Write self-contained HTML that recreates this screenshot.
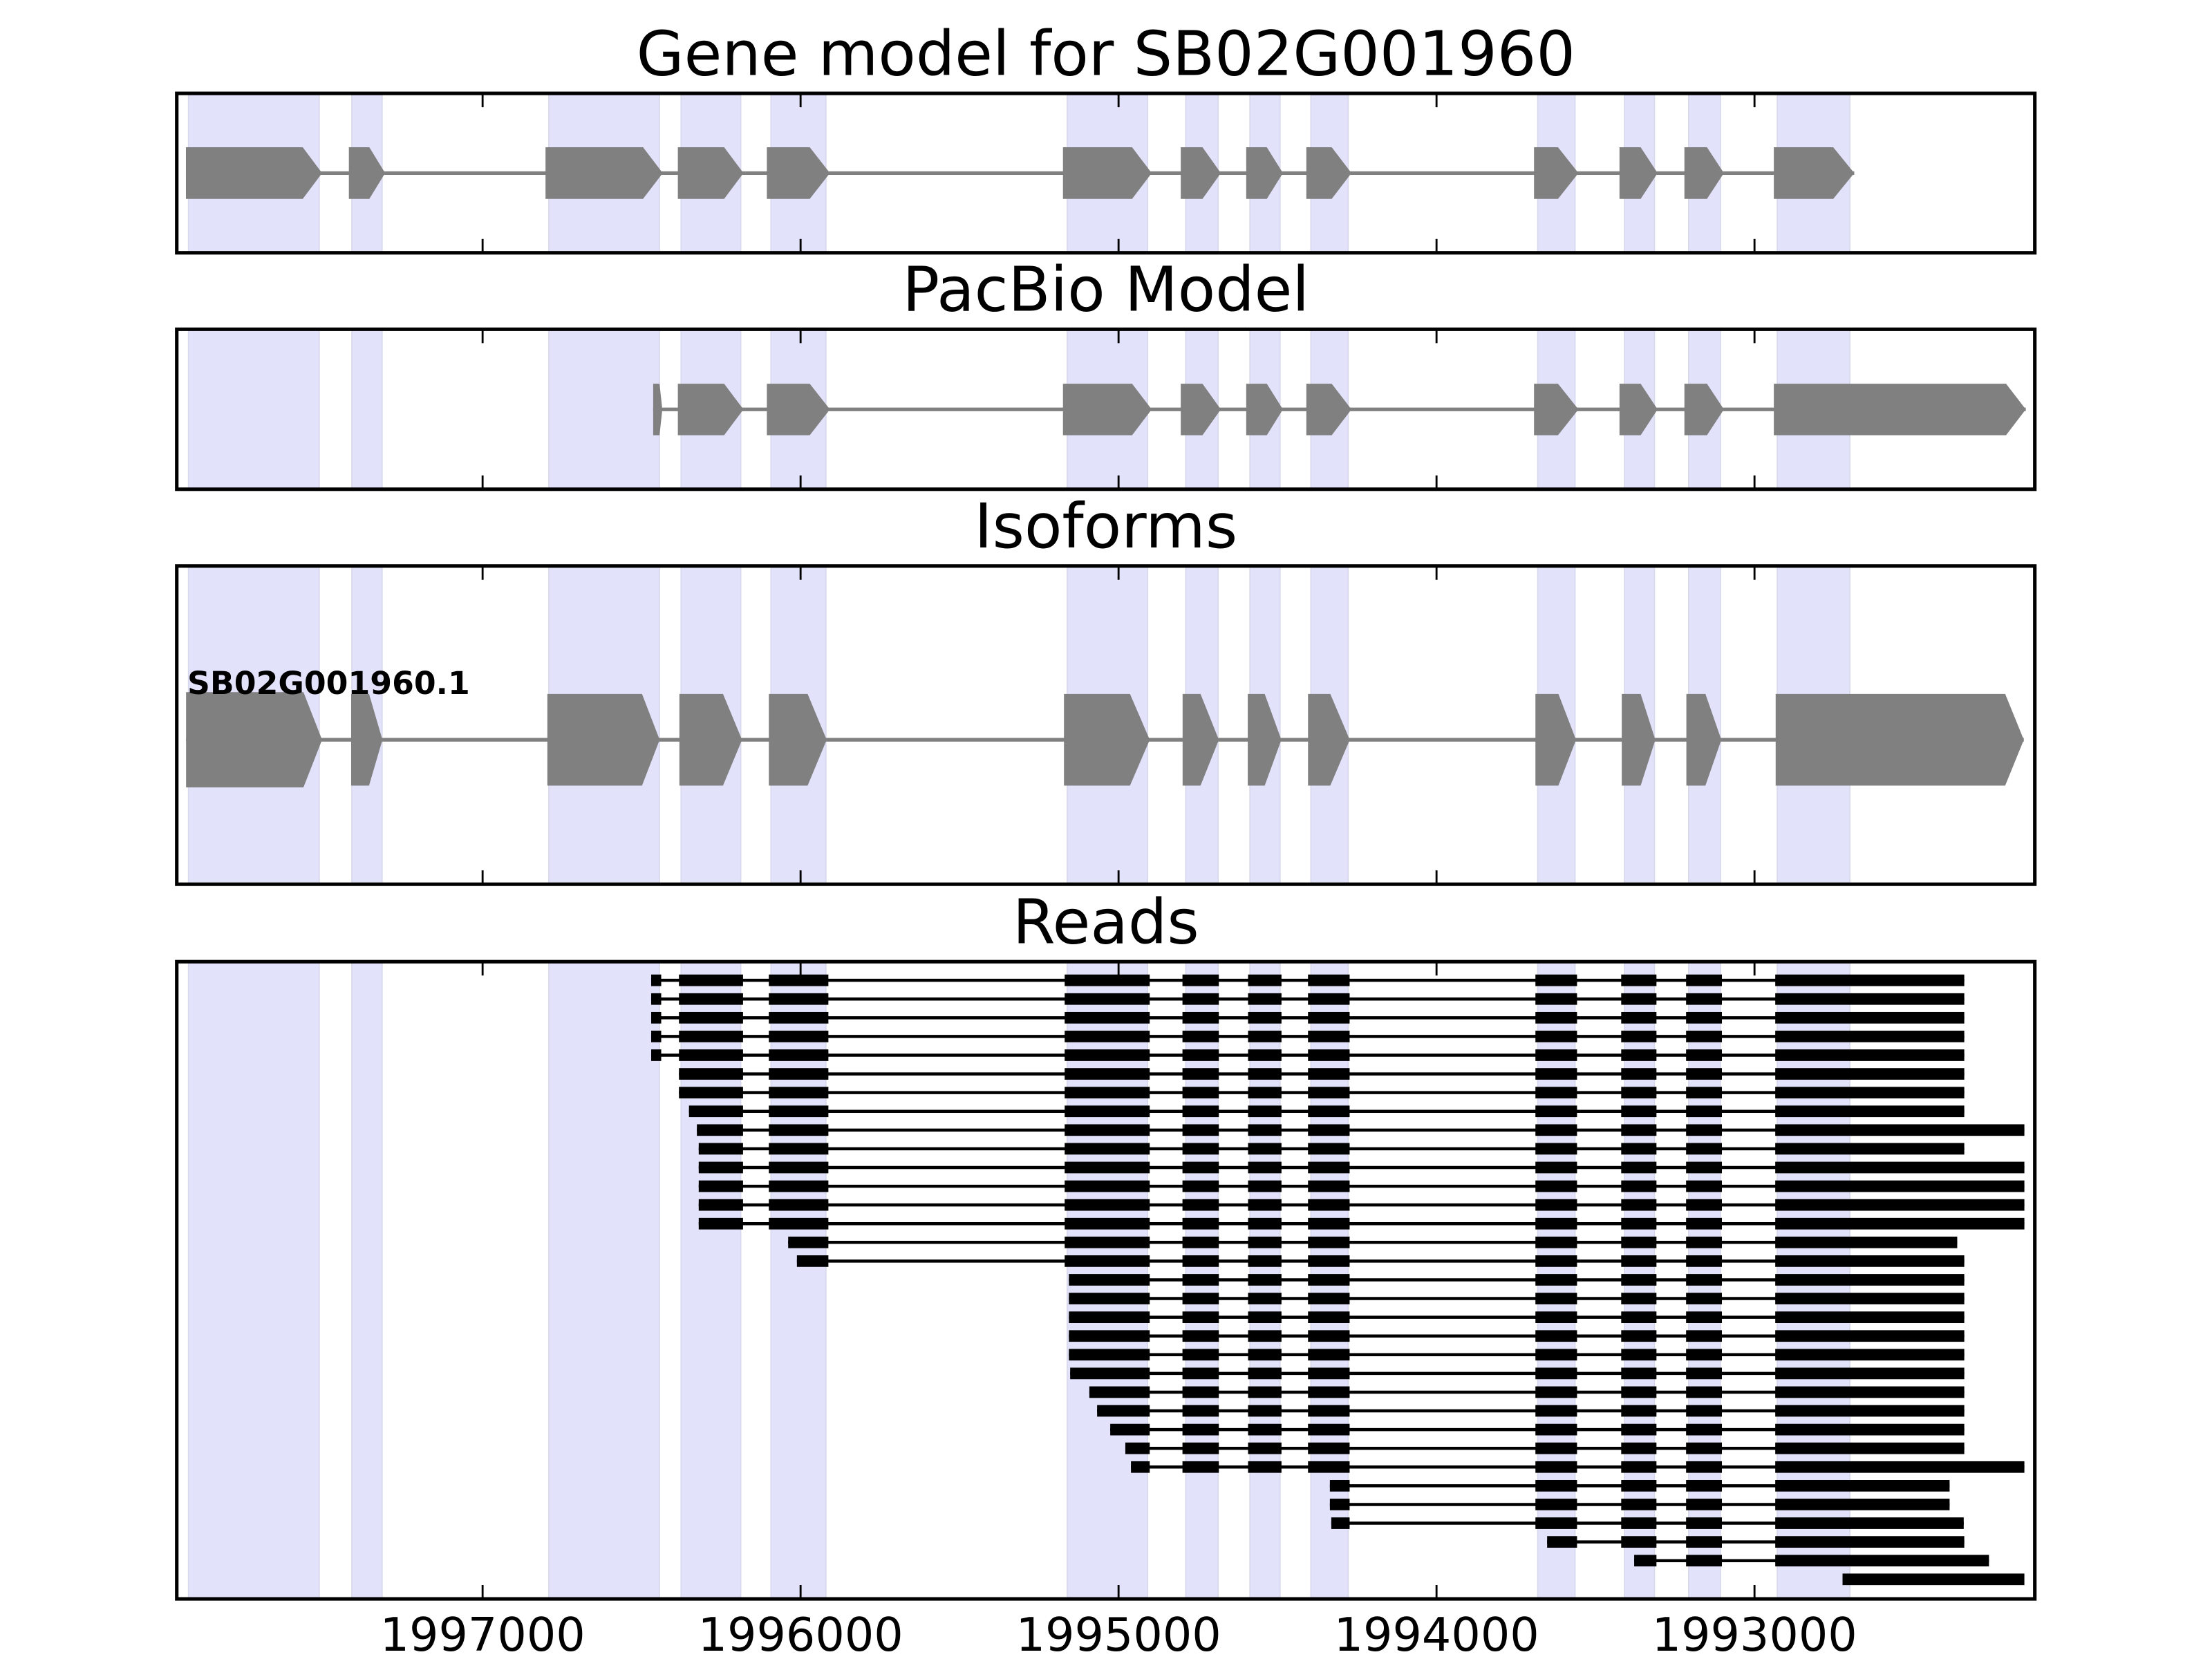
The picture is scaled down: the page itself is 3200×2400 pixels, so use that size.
<!DOCTYPE html>
<html>
<head>
<meta charset="utf-8">
<style>
html,body{margin:0;padding:0;background:#fff;width:3200px;height:2400px;overflow:hidden;}
svg{display:block;}
text{font-family:"DejaVu Sans","Liberation Sans",sans-serif;fill:#000;}
</style>
</head>
<body>
<svg xmlns="http://www.w3.org/2000/svg" xmlns:xlink="http://www.w3.org/1999/xlink" width="3200" height="2400" viewBox="0 0 1568 1176" preserveAspectRatio="none">
<defs>
  <g id="HI">
    <rect x="1149.2" y="-4.1" width="25" height="8.2"/>
    <rect x="1195.2" y="-4.1" width="25.4" height="8.2"/>
  </g>
  <g id="GI">
    <rect x="1088.4" y="-4.1" width="29.5" height="8.2"/>
    <use href="#HI" xlink:href="#HI"/>
  </g>
  <g id="DI">
    <rect x="838.2" y="-4.1" width="25.8" height="8.2"/>
    <rect x="884.7" y="-4.1" width="23.7" height="8.2"/>
    <rect x="927.2" y="-4.1" width="29.5" height="8.2"/>
    <use href="#GI" xlink:href="#GI"/>
  </g>
  <g id="CI">
    <rect x="754.7" y="-4.1" width="60.3" height="8.2"/>
    <use href="#DI" xlink:href="#DI"/>
  </g>
  <g id="AB">
    <rect x="481.3" y="-4.1" width="45.4" height="8.2"/>
    <rect x="545" y="-4.1" width="42.2" height="8.2"/>
  </g>
</defs>

<rect x="0" y="0" width="1568" height="1176" fill="#fff"/>

<!-- Shaded bands -->
<g fill="#e2e2fb" stroke="#d8d8ec" stroke-width="0.8">
  <!-- panel 1 -->
  <rect x="133.6" y="66.2" width="92.7" height="113"/>
  <rect x="249.4" y="66.2" width="21.5" height="113"/>
  <rect x="389" y="66.2" width="78.5" height="113"/>
  <rect x="482.8" y="66.2" width="42.3" height="113"/>
  <rect x="546.5" y="66.2" width="39" height="113"/>
  <rect x="756.5" y="66.2" width="57" height="113"/>
  <rect x="840.5" y="66.2" width="23" height="113"/>
  <rect x="886" y="66.2" width="21.4" height="113"/>
  <rect x="929.2" y="66.2" width="26.5" height="113"/>
  <rect x="1090" y="66.2" width="26.5" height="113"/>
  <rect x="1151.5" y="66.2" width="21.3" height="113"/>
  <rect x="1197" y="66.2" width="22.6" height="113"/>
  <rect x="1259.8" y="66.2" width="51.5" height="113"/>
  <!-- panel 2 -->
  <rect x="133.6" y="233.4" width="92.7" height="113.4"/>
  <rect x="249.4" y="233.4" width="21.5" height="113.4"/>
  <rect x="389" y="233.4" width="78.5" height="113.4"/>
  <rect x="482.8" y="233.4" width="42.3" height="113.4"/>
  <rect x="546.5" y="233.4" width="39" height="113.4"/>
  <rect x="756.5" y="233.4" width="57" height="113.4"/>
  <rect x="840.5" y="233.4" width="23" height="113.4"/>
  <rect x="886" y="233.4" width="21.4" height="113.4"/>
  <rect x="929.2" y="233.4" width="26.5" height="113.4"/>
  <rect x="1090" y="233.4" width="26.5" height="113.4"/>
  <rect x="1151.5" y="233.4" width="21.3" height="113.4"/>
  <rect x="1197" y="233.4" width="22.6" height="113.4"/>
  <rect x="1259.8" y="233.4" width="51.5" height="113.4"/>
  <!-- panel 3 -->
  <rect x="133.6" y="401.2" width="92.7" height="225.6"/>
  <rect x="249.4" y="401.2" width="21.5" height="225.6"/>
  <rect x="389" y="401.2" width="78.5" height="225.6"/>
  <rect x="482.8" y="401.2" width="42.3" height="225.6"/>
  <rect x="546.5" y="401.2" width="39" height="225.6"/>
  <rect x="756.5" y="401.2" width="57" height="225.6"/>
  <rect x="840.5" y="401.2" width="23" height="225.6"/>
  <rect x="886" y="401.2" width="21.4" height="225.6"/>
  <rect x="929.2" y="401.2" width="26.5" height="225.6"/>
  <rect x="1090" y="401.2" width="26.5" height="225.6"/>
  <rect x="1151.5" y="401.2" width="21.3" height="225.6"/>
  <rect x="1197" y="401.2" width="22.6" height="225.6"/>
  <rect x="1259.8" y="401.2" width="51.5" height="225.6"/>
  <!-- panel 4 -->
  <rect x="133.6" y="681.7" width="92.7" height="451.7"/>
  <rect x="249.4" y="681.7" width="21.5" height="451.7"/>
  <rect x="389" y="681.7" width="78.5" height="451.7"/>
  <rect x="482.8" y="681.7" width="42.3" height="451.7"/>
  <rect x="546.5" y="681.7" width="39" height="451.7"/>
  <rect x="756.5" y="681.7" width="57" height="451.7"/>
  <rect x="840.5" y="681.7" width="23" height="451.7"/>
  <rect x="886" y="681.7" width="21.4" height="451.7"/>
  <rect x="929.2" y="681.7" width="26.5" height="451.7"/>
  <rect x="1090" y="681.7" width="26.5" height="451.7"/>
  <rect x="1151.5" y="681.7" width="21.3" height="451.7"/>
  <rect x="1197" y="681.7" width="22.6" height="451.7"/>
  <rect x="1259.8" y="681.7" width="51.5" height="451.7"/>
</g>

<!-- Panel 1: Gene model -->
<g fill="#808080">
  <line x1="131.8" y1="122.7" x2="1314.4" y2="122.7" stroke="#808080" stroke-width="2.5"/>
  <polygon points="131.8,104.4 214.6,104.4 228.3,122.7 214.6,141 131.8,141"/>
  <polygon points="247.3,104.4 261.8,104.4 273,122.7 261.8,141 247.3,141"/>
  <polygon points="386.7,104.4 455.8,104.4 469.8,122.7 455.8,141 386.7,141"/>
  <polygon points="480.5,104.4 513.3,104.4 527,122.7 513.3,141 480.5,141"/>
  <polygon points="543.6,104.4 574,104.4 588.3,122.7 574,141 543.6,141"/>
  <polygon points="753.5,104.4 802.5,104.4 816.4,122.7 802.5,141 753.5,141"/>
  <polygon points="837,104.4 852.4,104.4 865.4,122.7 852.4,141 837,141"/>
  <polygon points="883.4,104.4 898,104.4 909.4,122.7 898,141 883.4,141"/>
  <polygon points="926,104.4 944,104.4 958,122.7 944,141 926,141"/>
  <polygon points="1087.4,104.4 1104.4,104.4 1118.9,122.7 1104.4,141 1087.4,141"/>
  <polygon points="1148,104.4 1163,104.4 1175,122.7 1163,141 1148,141"/>
  <polygon points="1194,104.4 1210,104.4 1222,122.7 1210,141 1194,141"/>
  <polygon points="1257.4,104.4 1299.5,104.4 1314.4,122.7 1299.5,141 1257.4,141"/>
</g>

<!-- Panel 2: PacBio -->
<g fill="#808080">
  <line x1="463" y1="290.2" x2="1436" y2="290.2" stroke="#808080" stroke-width="2.6"/>
  <polygon points="463,272 467.5,272 469.5,290.2 467.5,308.5 463,308.5"/>
  <polygon points="480.5,272 513.3,272 527,290.2 513.3,308.5 480.5,308.5"/>
  <polygon points="543.6,272 574,272 588.3,290.2 574,308.5 543.6,308.5"/>
  <polygon points="753.5,272 802.5,272 816.4,290.2 802.5,308.5 753.5,308.5"/>
  <polygon points="837,272 852.4,272 865.4,290.2 852.4,308.5 837,308.5"/>
  <polygon points="883.4,272 898,272 909.4,290.2 898,308.5 883.4,308.5"/>
  <polygon points="926,272 944,272 958,290.2 944,308.5 926,308.5"/>
  <polygon points="1087.4,272 1104.4,272 1118.9,290.2 1104.4,308.5 1087.4,308.5"/>
  <polygon points="1148,272 1163,272 1175,290.2 1163,308.5 1148,308.5"/>
  <polygon points="1194,272 1210,272 1222,290.2 1210,308.5 1194,308.5"/>
  <polygon points="1257.4,272 1422,272 1436,290.2 1422,308.5 1257.4,308.5"/>
</g>

<!-- Panel 3: Isoforms -->
<g fill="#808080">
  <line x1="131.9" y1="524.4" x2="1434.6" y2="524.4" stroke="#808080" stroke-width="2.6"/>
  <polygon points="131.9,490.6 215.1,490.6 228.3,524.4 215.1,558.2 131.9,558.2"/>
  <polygon points="248.9,491.9 261.6,491.9 271.1,524.4 261.6,556.9 248.9,556.9"/>
  <polygon points="388,491.9 455.1,491.9 467.6,524.4 455.1,556.9 388,556.9"/>
  <polygon points="481.6,491.9 512.5,491.9 526,524.4 512.5,556.9 481.6,556.9"/>
  <polygon points="545,491.9 572.5,491.9 586,524.4 572.5,556.9 545,556.9"/>
  <polygon points="754.2,491.9 801,491.9 815,524.4 801,556.9 754.2,556.9"/>
  <polygon points="838.3,491.9 851,491.9 864,524.4 851,556.9 838.3,556.9"/>
  <polygon points="884.5,491.9 896.5,491.9 908.3,524.4 896.5,556.9 884.5,556.9"/>
  <polygon points="927.2,491.9 943,491.9 956.8,524.4 943,556.9 927.2,556.9"/>
  <polygon points="1088.4,491.9 1104.7,491.9 1117.2,524.4 1104.7,556.9 1088.4,556.9"/>
  <polygon points="1149.6,491.9 1163,491.9 1173.4,524.4 1163,556.9 1149.6,556.9"/>
  <polygon points="1195.4,491.9 1208.9,491.9 1220.2,524.4 1208.9,556.9 1195.4,556.9"/>
  <polygon points="1258.7,491.9 1421.4,491.9 1434.6,524.4 1421.4,556.9 1258.7,556.9"/>
</g>
<text x="132.8" y="491.9" font-size="22.4" font-weight="bold">SB02G001960.1</text>

<!-- Panel 4: Reads -->
<g fill="#000" stroke="none">
  <g transform="translate(0,694.9)"><line x1="461.6" y1="0" x2="1392.4" y2="0" stroke="#000" stroke-width="2.2"/><rect x="461.6" y="-4.1" width="7.1" height="8.2"/><use href="#AB" xlink:href="#AB"/><use href="#CI" xlink:href="#CI"/><rect x="1258.4" y="-4.1" width="134" height="8.2"/></g>
  <g transform="translate(0,708.17)"><line x1="461.6" y1="0" x2="1392.4" y2="0" stroke="#000" stroke-width="2.2"/><rect x="461.6" y="-4.1" width="7.1" height="8.2"/><use href="#AB" xlink:href="#AB"/><use href="#CI" xlink:href="#CI"/><rect x="1258.4" y="-4.1" width="134" height="8.2"/></g>
  <g transform="translate(0,721.44)"><line x1="461.6" y1="0" x2="1392.4" y2="0" stroke="#000" stroke-width="2.2"/><rect x="461.6" y="-4.1" width="7.1" height="8.2"/><use href="#AB" xlink:href="#AB"/><use href="#CI" xlink:href="#CI"/><rect x="1258.4" y="-4.1" width="134" height="8.2"/></g>
  <g transform="translate(0,734.71)"><line x1="461.6" y1="0" x2="1392.4" y2="0" stroke="#000" stroke-width="2.2"/><rect x="461.6" y="-4.1" width="7.1" height="8.2"/><use href="#AB" xlink:href="#AB"/><use href="#CI" xlink:href="#CI"/><rect x="1258.4" y="-4.1" width="134" height="8.2"/></g>
  <g transform="translate(0,747.98)"><line x1="461.6" y1="0" x2="1392.4" y2="0" stroke="#000" stroke-width="2.2"/><rect x="461.6" y="-4.1" width="7.1" height="8.2"/><use href="#AB" xlink:href="#AB"/><use href="#CI" xlink:href="#CI"/><rect x="1258.4" y="-4.1" width="134" height="8.2"/></g>
  <g transform="translate(0,761.25)"><line x1="481.3" y1="0" x2="1392.4" y2="0" stroke="#000" stroke-width="2.2"/><use href="#AB" xlink:href="#AB"/><use href="#CI" xlink:href="#CI"/><rect x="1258.4" y="-4.1" width="134" height="8.2"/></g>
  <g transform="translate(0,774.52)"><line x1="481.3" y1="0" x2="1392.4" y2="0" stroke="#000" stroke-width="2.2"/><use href="#AB" xlink:href="#AB"/><use href="#CI" xlink:href="#CI"/><rect x="1258.4" y="-4.1" width="134" height="8.2"/></g>
  <g transform="translate(0,787.79)"><line x1="488.4" y1="0" x2="1392.4" y2="0" stroke="#000" stroke-width="2.2"/><rect x="488.4" y="-4.1" width="38.3" height="8.2"/><rect x="545" y="-4.1" width="42.2" height="8.2"/><use href="#CI" xlink:href="#CI"/><rect x="1258.4" y="-4.1" width="134" height="8.2"/></g>
  <g transform="translate(0,801.06)"><line x1="494" y1="0" x2="1435" y2="0" stroke="#000" stroke-width="2.2"/><rect x="494" y="-4.1" width="32.7" height="8.2"/><rect x="545" y="-4.1" width="42.2" height="8.2"/><use href="#CI" xlink:href="#CI"/><rect x="1258.4" y="-4.1" width="176.6" height="8.2"/></g>
  <g transform="translate(0,814.33)"><line x1="495.3" y1="0" x2="1392.4" y2="0" stroke="#000" stroke-width="2.2"/><rect x="495.3" y="-4.1" width="31.4" height="8.2"/><rect x="545" y="-4.1" width="42.2" height="8.2"/><use href="#CI" xlink:href="#CI"/><rect x="1258.4" y="-4.1" width="134" height="8.2"/></g>
  <g transform="translate(0,827.6)"><line x1="495.3" y1="0" x2="1435" y2="0" stroke="#000" stroke-width="2.2"/><rect x="495.3" y="-4.1" width="31.4" height="8.2"/><rect x="545" y="-4.1" width="42.2" height="8.2"/><use href="#CI" xlink:href="#CI"/><rect x="1258.4" y="-4.1" width="176.6" height="8.2"/></g>
  <g transform="translate(0,840.87)"><line x1="495.3" y1="0" x2="1435" y2="0" stroke="#000" stroke-width="2.2"/><rect x="495.3" y="-4.1" width="31.4" height="8.2"/><rect x="545" y="-4.1" width="42.2" height="8.2"/><use href="#CI" xlink:href="#CI"/><rect x="1258.4" y="-4.1" width="176.6" height="8.2"/></g>
  <g transform="translate(0,854.14)"><line x1="495.3" y1="0" x2="1435" y2="0" stroke="#000" stroke-width="2.2"/><rect x="495.3" y="-4.1" width="31.4" height="8.2"/><rect x="545" y="-4.1" width="42.2" height="8.2"/><use href="#CI" xlink:href="#CI"/><rect x="1258.4" y="-4.1" width="176.6" height="8.2"/></g>
  <g transform="translate(0,867.41)"><line x1="495.3" y1="0" x2="1435" y2="0" stroke="#000" stroke-width="2.2"/><rect x="495.3" y="-4.1" width="31.4" height="8.2"/><rect x="545" y="-4.1" width="42.2" height="8.2"/><use href="#CI" xlink:href="#CI"/><rect x="1258.4" y="-4.1" width="176.6" height="8.2"/></g>
  <g transform="translate(0,880.68)"><line x1="558.7" y1="0" x2="1387.4" y2="0" stroke="#000" stroke-width="2.2"/><rect x="558.7" y="-4.1" width="28.5" height="8.2"/><use href="#CI" xlink:href="#CI"/><rect x="1258.4" y="-4.1" width="129" height="8.2"/></g>
  <g transform="translate(0,893.95)"><line x1="564.9" y1="0" x2="1392.4" y2="0" stroke="#000" stroke-width="2.2"/><rect x="564.9" y="-4.1" width="22.3" height="8.2"/><use href="#CI" xlink:href="#CI"/><rect x="1258.4" y="-4.1" width="134" height="8.2"/></g>
  <g transform="translate(0,907.22)"><line x1="757.7" y1="0" x2="1392.4" y2="0" stroke="#000" stroke-width="2.2"/><rect x="757.7" y="-4.1" width="57.3" height="8.2"/><use href="#DI" xlink:href="#DI"/><rect x="1258.4" y="-4.1" width="134" height="8.2"/></g>
  <g transform="translate(0,920.49)"><line x1="757.7" y1="0" x2="1392.4" y2="0" stroke="#000" stroke-width="2.2"/><rect x="757.7" y="-4.1" width="57.3" height="8.2"/><use href="#DI" xlink:href="#DI"/><rect x="1258.4" y="-4.1" width="134" height="8.2"/></g>
  <g transform="translate(0,933.76)"><line x1="757.7" y1="0" x2="1392.4" y2="0" stroke="#000" stroke-width="2.2"/><rect x="757.7" y="-4.1" width="57.3" height="8.2"/><use href="#DI" xlink:href="#DI"/><rect x="1258.4" y="-4.1" width="134" height="8.2"/></g>
  <g transform="translate(0,947.03)"><line x1="757.7" y1="0" x2="1392.4" y2="0" stroke="#000" stroke-width="2.2"/><rect x="757.7" y="-4.1" width="57.3" height="8.2"/><use href="#DI" xlink:href="#DI"/><rect x="1258.4" y="-4.1" width="134" height="8.2"/></g>
  <g transform="translate(0,960.3)"><line x1="757.7" y1="0" x2="1392.4" y2="0" stroke="#000" stroke-width="2.2"/><rect x="757.7" y="-4.1" width="57.3" height="8.2"/><use href="#DI" xlink:href="#DI"/><rect x="1258.4" y="-4.1" width="134" height="8.2"/></g>
  <g transform="translate(0,973.57)"><line x1="758.6" y1="0" x2="1392.4" y2="0" stroke="#000" stroke-width="2.2"/><rect x="758.6" y="-4.1" width="56.4" height="8.2"/><use href="#DI" xlink:href="#DI"/><rect x="1258.4" y="-4.1" width="134" height="8.2"/></g>
  <g transform="translate(0,986.84)"><line x1="772.2" y1="0" x2="1392.4" y2="0" stroke="#000" stroke-width="2.2"/><rect x="772.2" y="-4.1" width="42.8" height="8.2"/><use href="#DI" xlink:href="#DI"/><rect x="1258.4" y="-4.1" width="134" height="8.2"/></g>
  <g transform="translate(0,1000.11)"><line x1="777.7" y1="0" x2="1392.4" y2="0" stroke="#000" stroke-width="2.2"/><rect x="777.7" y="-4.1" width="37.3" height="8.2"/><use href="#DI" xlink:href="#DI"/><rect x="1258.4" y="-4.1" width="134" height="8.2"/></g>
  <g transform="translate(0,1013.38)"><line x1="787" y1="0" x2="1392.4" y2="0" stroke="#000" stroke-width="2.2"/><rect x="787" y="-4.1" width="28" height="8.2"/><use href="#DI" xlink:href="#DI"/><rect x="1258.4" y="-4.1" width="134" height="8.2"/></g>
  <g transform="translate(0,1026.65)"><line x1="797.7" y1="0" x2="1392.4" y2="0" stroke="#000" stroke-width="2.2"/><rect x="797.7" y="-4.1" width="17.3" height="8.2"/><use href="#DI" xlink:href="#DI"/><rect x="1258.4" y="-4.1" width="134" height="8.2"/></g>
  <g transform="translate(0,1039.92)"><line x1="801.7" y1="0" x2="1435" y2="0" stroke="#000" stroke-width="2.2"/><rect x="801.7" y="-4.1" width="13.3" height="8.2"/><use href="#DI" xlink:href="#DI"/><rect x="1258.4" y="-4.1" width="176.6" height="8.2"/></g>
  <g transform="translate(0,1053.19)"><line x1="942.7" y1="0" x2="1382" y2="0" stroke="#000" stroke-width="2.2"/><rect x="942.7" y="-4.1" width="14" height="8.2"/><use href="#GI" xlink:href="#GI"/><rect x="1258.4" y="-4.1" width="123.6" height="8.2"/></g>
  <g transform="translate(0,1066.46)"><line x1="942.7" y1="0" x2="1382" y2="0" stroke="#000" stroke-width="2.2"/><rect x="942.7" y="-4.1" width="14" height="8.2"/><use href="#GI" xlink:href="#GI"/><rect x="1258.4" y="-4.1" width="123.6" height="8.2"/></g>
  <g transform="translate(0,1079.73)"><line x1="943.7" y1="0" x2="1392" y2="0" stroke="#000" stroke-width="2.2"/><rect x="943.7" y="-4.1" width="13" height="8.2"/><use href="#GI" xlink:href="#GI"/><rect x="1258.4" y="-4.1" width="133.6" height="8.2"/></g>
  <g transform="translate(0,1093)"><line x1="1096.7" y1="0" x2="1392.4" y2="0" stroke="#000" stroke-width="2.2"/><rect x="1096.7" y="-4.1" width="21.2" height="8.2"/><use href="#HI" xlink:href="#HI"/><rect x="1258.4" y="-4.1" width="134" height="8.2"/></g>
  <g transform="translate(0,1106.27)"><line x1="1158.4" y1="0" x2="1409.9" y2="0" stroke="#000" stroke-width="2.2"/><rect x="1158.4" y="-4.1" width="15.8" height="8.2"/><rect x="1195.2" y="-4.1" width="25.4" height="8.2"/><rect x="1258.4" y="-4.1" width="151.5" height="8.2"/></g>
  <g transform="translate(0,1119.54)"><rect x="1306.1" y="-4.1" width="128.9" height="8.2"/></g>
</g>

<!-- Ticks -->
<g stroke="#000" stroke-width="1.4">
  <path d="M342.1,66.2V76 M567.5,66.2V76 M792.9,66.2V76 M1018.3,66.2V76 M1243.7,66.2V76
           M342.1,179.2V169.4 M567.5,179.2V169.4 M792.9,179.2V169.4 M1018.3,179.2V169.4 M1243.7,179.2V169.4"/>
  <path d="M342.1,233.4V243.2 M567.5,233.4V243.2 M792.9,233.4V243.2 M1018.3,233.4V243.2 M1243.7,233.4V243.2
           M342.1,346.8V337 M567.5,346.8V337 M792.9,346.8V337 M1018.3,346.8V337 M1243.7,346.8V337"/>
  <path d="M342.1,401.2V411 M567.5,401.2V411 M792.9,401.2V411 M1018.3,401.2V411 M1243.7,401.2V411
           M342.1,626.8V617 M567.5,626.8V617 M792.9,626.8V617 M1018.3,626.8V617 M1243.7,626.8V617"/>
  <path d="M342.1,681.7V691.5 M567.5,681.7V691.5 M792.9,681.7V691.5 M1018.3,681.7V691.5 M1243.7,681.7V691.5
           M342.1,1133.4V1123.6 M567.5,1133.4V1123.6 M792.9,1133.4V1123.6 M1018.3,1133.4V1123.6 M1243.7,1133.4V1123.6"/>
</g>

<!-- Axes frames -->
<g fill="none" stroke="#000" stroke-width="2.5">
  <rect x="125.3" y="66.2" width="1317.1" height="113"/>
  <rect x="125.3" y="233.4" width="1317.1" height="113.4"/>
  <rect x="125.3" y="401.2" width="1317.1" height="225.6"/>
  <rect x="125.3" y="681.7" width="1317.1" height="451.7"/>
</g>

<!-- Titles -->
<g font-size="43.6" text-anchor="middle">
  <text x="783.9" y="53.1">Gene model for SB02G001960</text>
  <text x="783.9" y="220.3">PacBio Model</text>
  <text x="783.9" y="388.1">Isoforms</text>
  <text x="783.9" y="668.6">Reads</text>
</g>

<!-- Tick labels -->
<g font-size="32.7" text-anchor="middle">
  <text x="342.1" y="1170.2">1997000</text>
  <text x="567.5" y="1170.2">1996000</text>
  <text x="792.9" y="1170.2">1995000</text>
  <text x="1018.3" y="1170.2">1994000</text>
  <text x="1243.7" y="1170.2">1993000</text>
</g>
</svg>
</body>
</html>
